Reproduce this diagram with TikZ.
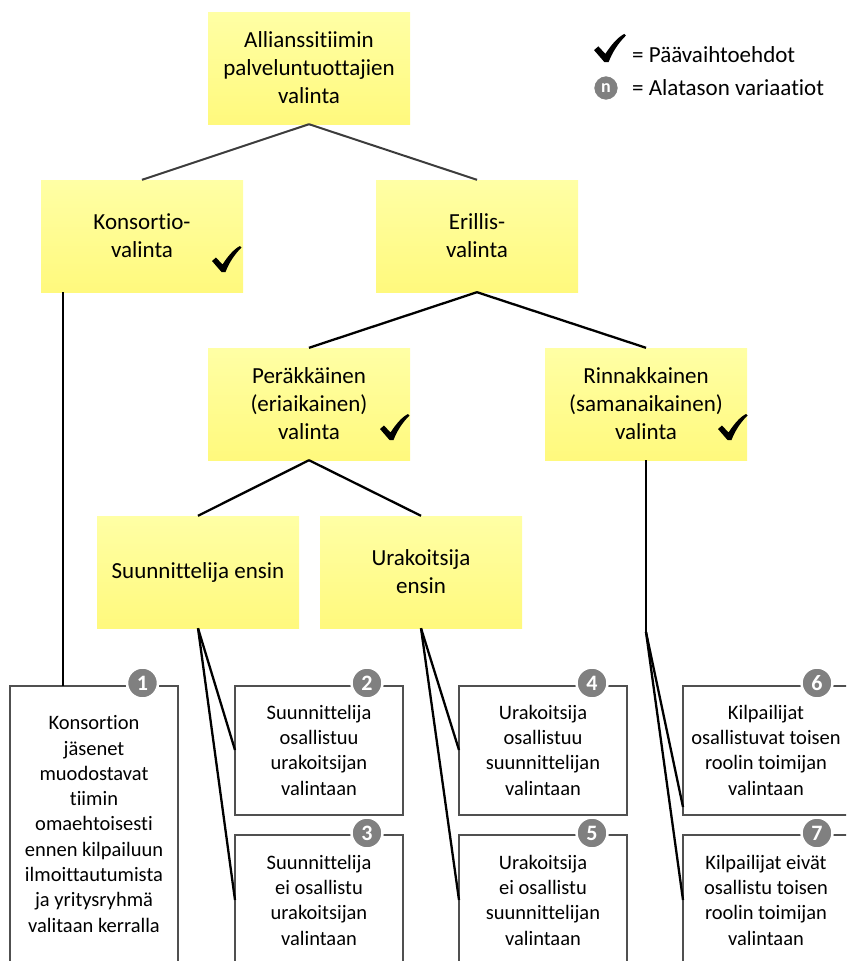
\documentclass[tikz,border=0pt]{standalone}
\usepackage{fontspec}
\setmainfont{Carlito}[Ligatures={NoCommon}]
\begin{document}
\begin{tikzpicture}[x=1pt,y=-1pt,
  ybox/.style={rectangle, minimum width=202pt, minimum height=112pt, inner sep=0pt,
    top color={rgb,255:red,255;green,255;blue,165}, bottom color={rgb,255:red,255;green,249;blue,125},
    align=center, font=\fontsize{23}{28}\selectfont},
  tline/.style={draw={rgb,255:red,60;green,60;blue,60}, line width=2pt},
  bline/.style={draw=black, line width=2.3pt},
  obox/.style={draw={rgb,255:red,80;green,80;blue,80}, line width=1.3pt},
  otext/.style={align=center, inner sep=0pt, font=\fontsize{20.5}{25.3}\selectfont},
  numc/.style={circle, fill={rgb,255:red,128;green,128;blue,128}, draw=white, line width=2.5pt,
    minimum size=31pt, inner sep=0pt, text=white, font=\fontsize{22}{22}\selectfont\bfseries},
  chk/.pic={\fill[black] (-12,-11) -- (-8,-14.5) -- (-1.5,-7.5) .. controls (4,-16) and (10,-23) .. (16,-26) -- (17.5,-24.5) .. controls (10,-17) and (5,-9) .. (1.5,0) -- (-2.5,0) -- cycle;}
]
\useasboundingbox (0,0) rectangle (846,961);
\clip (0,0) rectangle (846,961);

% yellow boxes
\node[ybox] (top) at (309,68) {Allianssitiimin\\palveluntuottajien\\valinta};
\node[ybox] (kons) at (142,236) {Konsortio-\\valinta};
\node[ybox] (eril) at (477,236) {Erillis-\\valinta};
\node[ybox] (perak) at (309,404) {Peräkkäinen\\(eriaikainen)\\valinta};
\node[ybox] (rinn) at (646,404) {Rinnakkainen\\(samanaikainen)\\valinta};
\node[ybox] (suun) at (198,572) {Suunnittelija ensin};
\node[ybox] (urak) at (421,572) {Urakoitsija\\ensin};

% check marks
\pic at (224,272) {chk};
\pic at (392,440) {chk};
\pic at (730,440) {chk};
\pic[scale=1.08] at (607,62) {chk};

% tree connectors
\draw[tline] (top.south) -- (kons.north);
\draw[tline] (top.south) -- (eril.north);
\draw[bline] (eril.south) -- (perak.north);
\draw[bline] (eril.south) -- (rinn.north);
\draw[bline] (perak.south) -- (suun.north);
\draw[bline] (perak.south) -- (urak.north);

% outline boxes (open at bottom)
\draw[obox] (10,975) -- (10,686) -- (178,686) -- (178,975);
\draw[obox] (235,815) -- (235,686) -- (403,686) -- (403,815) -- cycle;
\draw[obox] (235,975) -- (235,835) -- (403,835) -- (403,975);
\draw[obox] (459,815) -- (459,686) -- (627,686) -- (627,815) -- cycle;
\draw[obox] (459,975) -- (459,835) -- (627,835) -- (627,975);
\draw[obox] (860,815) -- (683,815) -- (683,686) -- (860,686);
\draw[obox] (683,975) -- (683,835) -- (860,835);

% texts
\node[otext] (t1) at (94,824) {Konsortion\\jäsenet\\muodostavat\\tiimin\\omaehtoisesti\\ennen kilpailuun\\ilmoittautumista\\ja yritysryhmä\\valitaan kerralla};
\node[otext] (t2) at (319,750) {Suunnittelija\\osallistuu\\urakoitsijan\\valintaan};
\node[otext] (t3) at (319,900) {Suunnittelija\\ei osallistu\\urakoitsijan\\valintaan};
\node[otext] (t4) at (543,750) {Urakoitsija\\osallistuu\\suunnittelijan\\valintaan};
\node[otext] (t5) at (543,900) {Urakoitsija\\ei osallistu\\suunnittelijan\\valintaan};
\node[otext] (t6) at (766,750) {Kilpailijat\\osallistuvat toisen\\roolin toimijan\\valintaan};
\node[otext] (t7) at (766,900) {Kilpailijat eivät\\osallistu toisen\\roolin toimijan\\valintaan};

% connectors to outline boxes
\coordinate (k1) at (63,686);
\draw[bline] (63,292) coordinate (k0) -- (k1);
\coordinate (s2) at (235,750);
\coordinate (s3) at (235,900);
\draw[bline] (suun.south) -- (s2);
\draw[bline] (suun.south) -- (s3);
\coordinate (u4) at (459,750);
\coordinate (u5) at (459,900);
\draw[bline] (urak.south) -- (u4);
\draw[bline] (urak.south) -- (u5);
\coordinate (rb) at (646,632);
\coordinate (r6) at (683,807);
\coordinate (r7) at (683,900);
\draw[bline] (rinn.south) -- (rb);
\draw[bline] (rb) -- (r6);
\draw[bline] (rb) -- (r7);

% number circles
\node[numc] (n1) at (142.5,683) {1};
\node[numc] (n2) at (367,683) {2};
\node[numc] (n3) at (367,833) {3};
\node[numc] (n4) at (592,683) {4};
\node[numc] (n5) at (592,833) {5};
\node[numc] (n6) at (817,683) {6};
\node[numc] (n7) at (817,833) {7};

% legend
\node[numc, minimum size=26pt, font=\fontsize{18}{18}\selectfont\bfseries] (ln) at (606,88) {n};
\node[anchor=west, inner sep=0pt, font=\fontsize{23}{28}\selectfont] (lt1) at (632,55) {= Päävaihtoehdot};
\node[anchor=west, inner sep=0pt, font=\fontsize{23}{28}\selectfont] (lt2) at (632,88) {= Alatason variaatiot};
\end{tikzpicture}
\end{document}
